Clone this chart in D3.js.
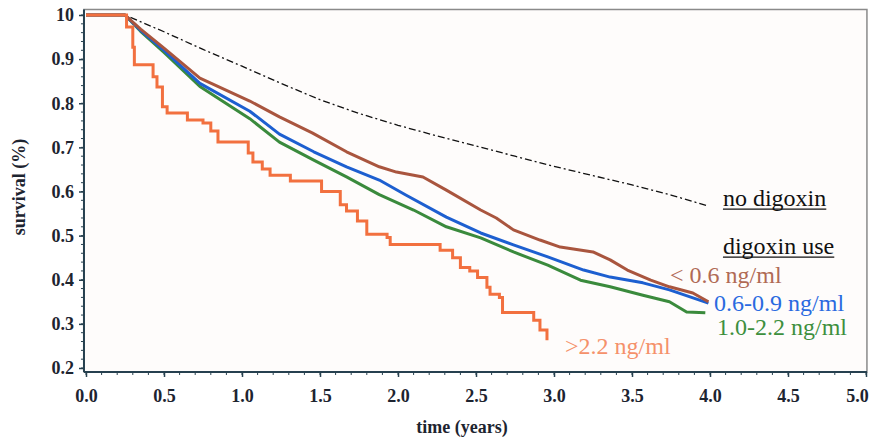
<!DOCTYPE html>
<html>
<head>
<meta charset="utf-8">
<script src="https://cdn.jsdelivr.net/npm/d3@7/dist/d3.min.js"></script>
<style>
  body { margin: 0; background: #fff; }
  svg { display: block; }
  text { font-family: 'Liberation Serif', 'Times New Roman', Times, serif; }
</style>
</head>
<body>
<svg id="chart" width="869" height="440"></svg>
<script>
// ticks
const xTicks = [0, 0.5, 1, 1.5, 2, 2.5, 3, 3.5, 4, 4.5, 5];
const xTickLabels = ['0.0', '0.5', '1.0', '1.5', '2.0', '2.5', '3.0', '3.5', '4.0', '4.5', '5.0'];
const yTicks = [0.2, 0.3, 0.4, 0.5, 0.6, 0.7, 0.8, 0.9, 1.0];
const yTickLabels = ['0.2', '0.3', '0.4', '0.5', '0.6', '0.7', '0.8', '0.9', '10'];

// survival curves, [years, survival]
const noDigoxin = [[0, 1], [0.25, 1], [0.5, 0.962], [0.75, 0.922], [1.0, 0.884], [1.25, 0.845],
  [1.5, 0.808], [1.75, 0.777], [2.0, 0.75], [2.25, 0.726], [2.5, 0.703], [2.75, 0.68],
  [3.0, 0.657], [3.25, 0.636], [3.5, 0.615], [3.75, 0.592], [3.99, 0.567]];

const below06 = [[0, 1], [0.25, 1], [0.35, 0.968], [0.5, 0.925], [0.73, 0.857], [1.05, 0.805],
  [1.24, 0.769], [1.45, 0.733], [1.67, 0.69], [1.88, 0.656], [1.99, 0.644], [2.16, 0.633],
  [2.31, 0.603], [2.53, 0.558], [2.63, 0.54], [2.74, 0.513], [2.91, 0.49], [3.04, 0.474],
  [3.25, 0.463], [3.36, 0.445], [3.47, 0.422], [3.62, 0.399], [3.74, 0.384], [3.89, 0.37],
  [3.99, 0.35]];

const from06to09 = [[0, 1], [0.25, 1], [0.35, 0.965], [0.5, 0.92], [0.73, 0.845], [1.05, 0.782],
  [1.24, 0.73], [1.46, 0.69], [1.67, 0.656], [1.88, 0.626], [2.05, 0.592], [2.31, 0.542],
  [2.53, 0.506], [2.74, 0.479], [2.96, 0.452], [3.19, 0.422], [3.36, 0.406], [3.57, 0.393],
  [3.74, 0.377], [3.99, 0.347]];

const from10to22 = [[0, 1], [0.25, 1], [0.35, 0.963], [0.5, 0.915], [0.73, 0.838], [1.05, 0.765],
  [1.24, 0.712], [1.46, 0.671], [1.67, 0.633], [1.88, 0.593], [2.1, 0.558], [2.31, 0.52],
  [2.53, 0.495], [2.74, 0.463], [2.96, 0.433], [3.17, 0.399], [3.36, 0.384], [3.57, 0.365],
  [3.74, 0.35], [3.85, 0.327], [3.97, 0.325]];

// step curve, value holds from that time on
const above22 = [[0, 1], [0.26, 0.973], [0.3, 0.927], [0.31, 0.887], [0.43, 0.86], [0.455, 0.837],
  [0.49, 0.792], [0.52, 0.778], [0.65, 0.762], [0.75, 0.755], [0.8, 0.737], [0.846, 0.712],
  [1.04, 0.687], [1.07, 0.667], [1.13, 0.651], [1.18, 0.637], [1.31, 0.624], [1.51, 0.6],
  [1.63, 0.57], [1.67, 0.556], [1.74, 0.533], [1.8, 0.503], [1.93, 0.496], [1.95, 0.48],
  [2.27, 0.467], [2.35, 0.45], [2.4, 0.428], [2.46, 0.42], [2.51, 0.405], [2.57, 0.383],
  [2.59, 0.367], [2.65, 0.36], [2.67, 0.326], [2.87, 0.308], [2.91, 0.286], [2.955, 0.263]];

const svg = d3.select('#chart');
const x = d3.scaleLinear().domain([0, 5]).range([86, 866]);
const y = d3.scaleLinear().domain([0.2, 1]).range([368, 15]);

const axisColor = '#26404f';

// frame
const fLeft = x(-0.013), fRight = x(5.006), fTop = y(1.0125), fBottom = y(0.191);
svg.append('rect')
  .attr('x', fLeft).attr('y', fTop)
  .attr('width', fRight - fLeft).attr('height', fBottom - fTop)
  .attr('fill', '#fefcfb')
  .attr('stroke', '#8a8a8a').attr('stroke-width', 1.5);

// minor ticks
const minorX = d3.range(0, 5.001, 0.1);
svg.append('g').selectAll('line').data(minorX).join('line')
  .attr('x1', d => x(d)).attr('x2', d => x(d))
  .attr('y1', fBottom).attr('y2', fBottom + 3)
  .attr('stroke', axisColor).attr('stroke-width', 1);
const minorY = d3.range(0.2, 1.001, 0.02);
svg.append('g').selectAll('line').data(minorY).join('line')
  .attr('x1', fLeft - 3).attr('x2', fLeft)
  .attr('y1', d => y(d)).attr('y2', d => y(d))
  .attr('stroke', axisColor).attr('stroke-width', 1);

// axes
const xAxis = svg.append('g')
  .attr('transform', `translate(0,${fBottom})`)
  .call(d3.axisBottom(x).tickValues(xTicks).tickFormat((d, i) => xTickLabels[i])
    .tickSize(5).tickSizeOuter(0).tickPadding(12));
const yAxis = svg.append('g')
  .attr('transform', `translate(${fLeft},0)`)
  .call(d3.axisLeft(y).tickValues(yTicks).tickFormat((d, i) => yTickLabels[i])
    .tickSize(5).tickSizeOuter(0).tickPadding(5));

[xAxis, yAxis].forEach(a => {
  a.attr('font-family', null).attr('font-size', null);
  a.select('.domain').remove();
  a.selectAll('.tick line').attr('stroke', axisColor).attr('stroke-width', 1.5);
  a.selectAll('.tick text')
    .attr('fill', '#1d2430')
    .style('font-weight', 'bold')
    .style('font-size', '18px');
});
// last label sits against the right edge
xAxis.selectAll('.tick text').filter(d => d === 5).attr('dx', -9);

svg.append('line')
  .attr('x1', fLeft).attr('x2', fRight).attr('y1', fBottom).attr('y2', fBottom)
  .attr('stroke', axisColor).attr('stroke-width', 2);
svg.append('line')
  .attr('x1', fLeft).attr('x2', fLeft).attr('y1', fTop).attr('y2', fBottom)
  .attr('stroke', axisColor).attr('stroke-width', 2);

// axis titles
svg.append('text')
  .attr('transform', `translate(25,187) rotate(-90)`)
  .attr('text-anchor', 'middle')
  .style('font-weight', 'bold').style('font-size', '18px')
  .attr('fill', '#1d2430')
  .text('survival (%)');
svg.append('text')
  .attr('x', 462).attr('y', 433)
  .attr('text-anchor', 'middle')
  .style('font-weight', 'bold').style('font-size', '18px')
  .attr('fill', '#1d2430')
  .text('time (years)');

// curves
const line = d3.line().x(d => x(d[0])).y(d => y(d[1]));
const stepLine = d3.line().x(d => x(d[0])).y(d => y(d[1])).curve(d3.curveStepAfter);

svg.append('path').datum(noDigoxin)
  .attr('fill', 'none').attr('stroke', '#111').attr('stroke-width', 1.3)
  .attr('stroke-dasharray', '7,3,2,3')
  .attr('d', line);

const curves = [
  { data: from10to22, color: '#3a8a3c' },
  { data: from06to09, color: '#1d5fd0' },
  { data: below06, color: '#a9553e' }
];
curves.forEach(c => {
  svg.append('path').datum(c.data)
    .attr('fill', 'none').attr('stroke', c.color).attr('stroke-width', 3)
    .attr('stroke-linejoin', 'round')
    .attr('d', line);
});

svg.append('path').datum(above22)
  .attr('fill', 'none').attr('stroke', '#f2703f').attr('stroke-width', 3)
  .attr('d', stepLine);

// annotations
const labels = [
  { text: 'no digoxin', t: 4.083, s: 0.567, color: '#111', underline: true },
  { text: 'digoxin use', t: 4.083, s: 0.458, color: '#111', underline: true },
  { text: '< 0.6 ng/ml', t: 3.744, s: 0.393, color: '#b06a55' },
  { text: '0.6-0.9 ng/ml', t: 4.026, s: 0.329, color: '#2a6ae0' },
  { text: '1.0-2.2 ng/ml', t: 4.045, s: 0.275, color: '#3d8f3d' },
  { text: '>2.2 ng/ml', t: 3.071, s: 0.232, color: '#f5916a' }
];
labels.forEach(l => {
  const tx = svg.append('text')
    .attr('x', x(l.t)).attr('y', y(l.s))
    .style('font-size', '24px')
    .attr('fill', l.color)
    .text(l.text);
  if (l.underline) {
    const w = tx.node().getComputedTextLength();
    svg.append('line')
      .attr('x1', x(l.t)).attr('x2', x(l.t) + w)
      .attr('y1', y(l.s) + 3).attr('y2', y(l.s) + 3)
      .attr('stroke', l.color).attr('stroke-width', 1.3);
  }
});
</script>
</body>
</html>
